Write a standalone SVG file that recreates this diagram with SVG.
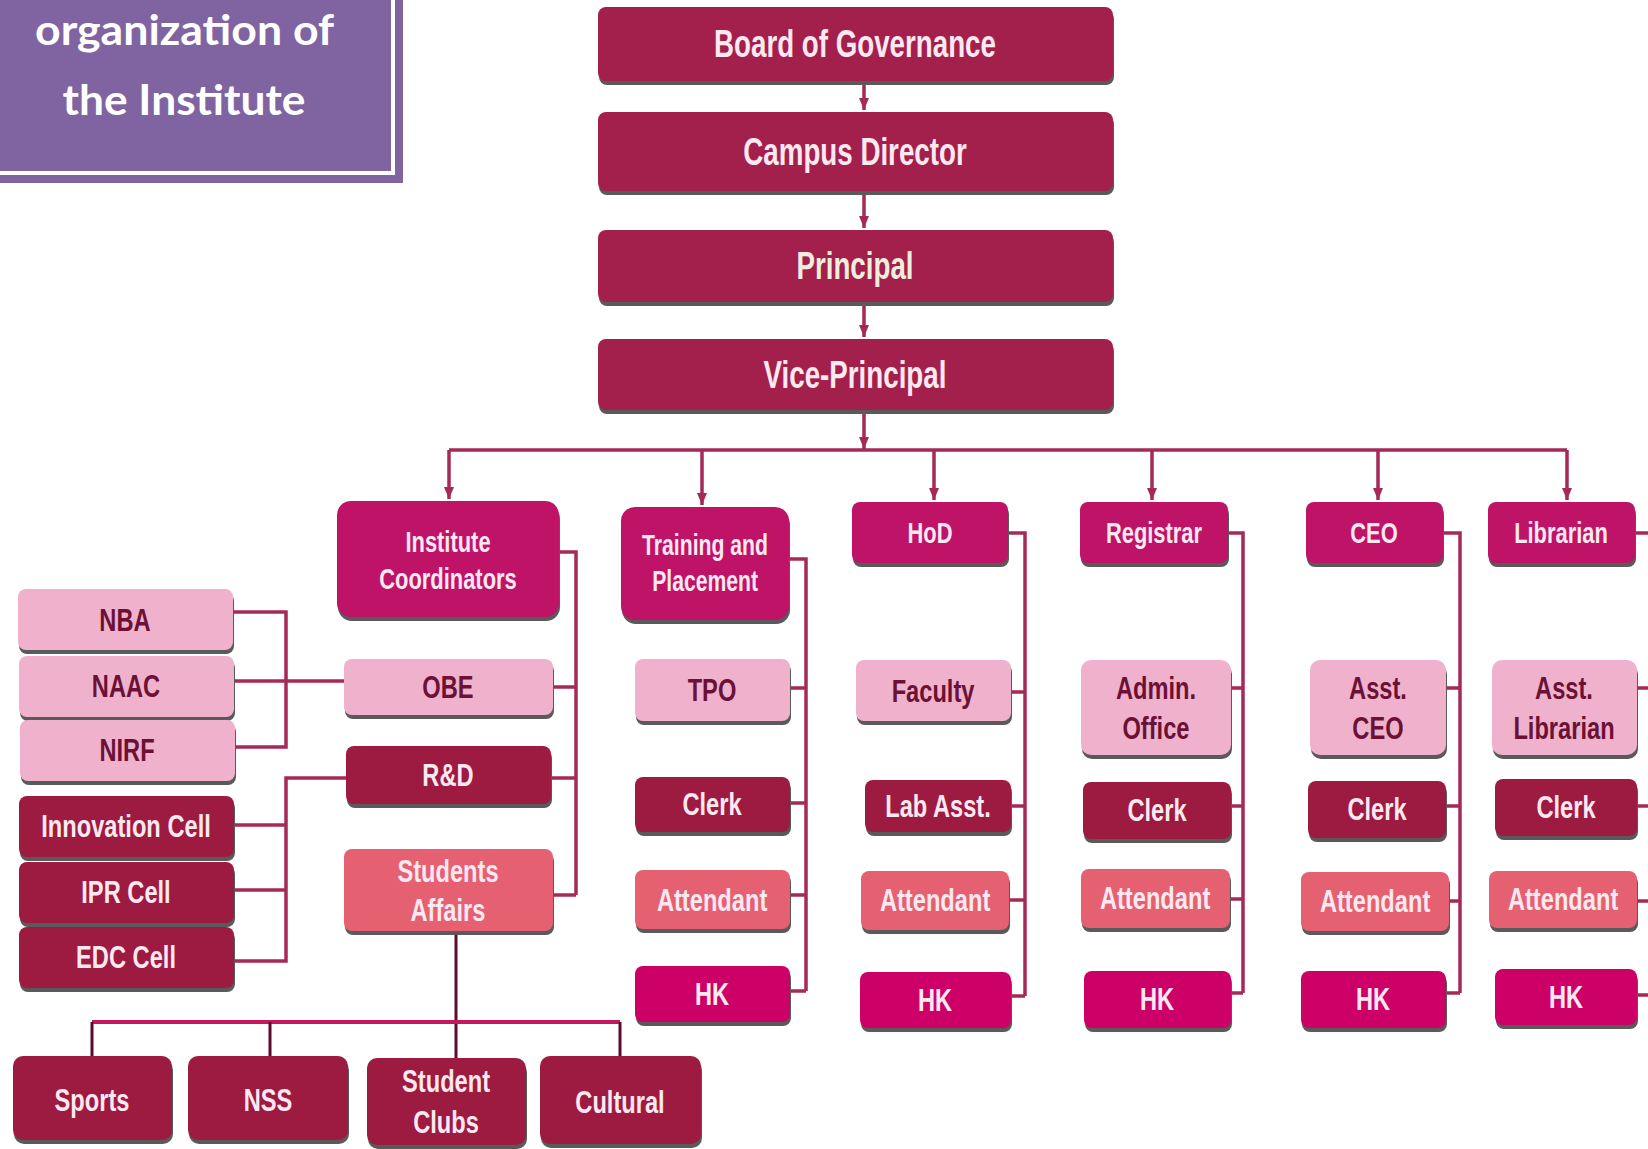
<svg xmlns="http://www.w3.org/2000/svg" width="1648" height="1149" viewBox="0 0 1648 1149">
<style>
text{font-family:"Liberation Sans Narrow","Arial Narrow","Liberation Sans",sans-serif;font-weight:bold;text-anchor:middle;dominant-baseline:central;transform-box:fill-box;transform-origin:center;transform:scaleX(0.74)}
.t{font-size:38px;transform:scaleX(0.73)}
.l2{font-size:30px;transform:scaleX(0.73)}
.c{font-size:32px}
.w{fill:#fbe8f0}
.d{fill:#6b1136}
.top{fill:#a3204c}
.mag{fill:#be1367}
.lt{fill:#f0b1cc}
.dk{fill:#9d1a40}
.sal{fill:#e56171}
.hk{fill:#cc0066}
.sh{fill:#5a5a5a}
.cn{fill:none;stroke:#a52a58;stroke-width:3.5}
.bus2{fill:none;stroke:#c8175f;stroke-width:4}
.dr{fill:none;stroke:#5c0b2c;stroke-width:3}
text.title{font-family:Lato,"Open Sans",sans-serif;font-weight:bold;fill:#ffffff;text-anchor:middle;dominant-baseline:alphabetic;transform:none}
</style>
<defs>
<marker id="ad" viewBox="0 0 12 10" refX="12" refY="5" markerWidth="12" markerHeight="14" markerUnits="userSpaceOnUse" orient="auto">
<path d="M0,0 L12,5 L0,10 Z" fill="#a52a58"/>
</marker>
</defs>
<rect width="1648" height="1149" fill="#ffffff"/>

<g id="title">
<rect x="0" y="0" width="403" height="183" fill="#8064a2"/>
<rect x="-10" y="-10" width="403" height="183" fill="none" stroke="#ffffff" stroke-width="4"/>
<text class="title" x="184.5" y="45" font-size="42" textLength="299" lengthAdjust="spacingAndGlyphs">organization of</text>
<text class="title" x="184" y="115" font-size="42" textLength="243" lengthAdjust="spacingAndGlyphs">the Institute</text>
</g>

<g id="connectors">
<path class="cn" d="M864,81 V110" marker-end="url(#ad)"/>
<path class="cn" d="M864,191 V228" marker-end="url(#ad)"/>
<path class="cn" d="M864,302 V337" marker-end="url(#ad)"/>
<path class="cn" d="M864,410 V449" marker-end="url(#ad)"/>
<path class="cn" d="M449,450 H1567"/>
<path class="cn" d="M449,450 V499" marker-end="url(#ad)"/>
<path class="cn" d="M702,450 V505" marker-end="url(#ad)"/>
<path class="cn" d="M934,450 V500" marker-end="url(#ad)"/>
<path class="cn" d="M1152,450 V500" marker-end="url(#ad)"/>
<path class="cn" d="M1378,450 V500" marker-end="url(#ad)"/>
<path class="cn" d="M1567,450 V500" marker-end="url(#ad)"/>
<path class="cn" d="M559,552 H576 V895"/>
<path class="cn" d="M553,687 H576 M551,778 H576 M553,895 H576"/>
<path class="cn" d="M233,612 H286 V747 H235 M234,681 H344"/>
<path class="cn" d="M346,778 H286 V961 H234 M234,825 H286 M234,890 H286"/>
<path class="dr" d="M456,931 V1058"/>
<path class="bus2" d="M92,1022 H620"/>
<path class="dr" d="M92,1022 V1056 M270,1022 V1056 M620,1022 V1056"/>
<path class="cn" d="M789,559 H806 V991"/>
<path class="cn" d="M790,688 H806 M790,803 H806 M790,895 H806 M790,991 H806"/>
<path class="cn" d="M1008,533 H1025 V996"/>
<path class="cn" d="M1011,692 H1025 M1011,806 H1025 M1009,900 H1025 M1011,996 H1025"/>
<path class="cn" d="M1228,533 H1243 V993"/>
<path class="cn" d="M1231,688 H1243 M1231,806 H1243 M1230,899 H1243 M1231,993 H1243"/>
<path class="cn" d="M1443,533 H1460 V993"/>
<path class="cn" d="M1446,688 H1460 M1446,806 H1460 M1449,901 H1460 M1446,993 H1460"/>
<path class="cn" d="M1635,533 H1648 M1637,688 H1648 M1637,806 H1648 M1637,901 H1648 M1637,995 H1648"/>
</g>

<g id="board"><rect class="sh" x="599" y="11" width="515" height="74" rx="8"/><rect class="top" x="598" y="7" width="515" height="74" rx="8"/><text class="t w" x="855" y="44">Board of Governance</text></g>
<g id="campus-director"><rect class="sh" x="599" y="116" width="515" height="79" rx="8"/><rect class="top" x="598" y="112" width="515" height="79" rx="8"/><text class="t w" x="855" y="152">Campus Director</text></g>
<g id="principal"><rect class="sh" x="599" y="234" width="515" height="72" rx="8"/><rect class="top" x="598" y="230" width="515" height="72" rx="8"/><text class="t w" x="855" y="266" style="fill:#efeede">Principal</text></g>
<g id="vice-principal"><rect class="sh" x="599" y="343" width="515" height="71" rx="8"/><rect class="top" x="598" y="339" width="515" height="71" rx="8"/><text class="t w" x="855" y="375">Vice-Principal</text></g>

<g id="institute-coordinators"><rect class="sh" x="338" y="505" width="222" height="116" rx="14"/><rect class="mag" x="337" y="501" width="222" height="116" rx="14"/><text class="l2 w" x="448" y="542">Institute</text><text class="l2 w" x="448" y="579">Coordinators</text></g>
<g id="training-placement"><rect class="sh" x="622" y="511" width="168" height="113" rx="14"/><rect class="mag" x="621" y="507" width="168" height="113" rx="14"/><text class="l2 w" style="font-size:29px" x="705" y="545">Training and</text><text class="l2 w" style="font-size:29px" x="705" y="581">Placement</text></g>
<g id="hod"><rect class="sh" x="853" y="506" width="156" height="61" rx="8"/><rect class="mag" x="852" y="502" width="156" height="61" rx="8"/><text class="l2 w" x="930" y="533">HoD</text></g>
<g id="registrar"><rect class="sh" x="1081" y="506" width="148" height="61" rx="8"/><rect class="mag" x="1080" y="502" width="148" height="61" rx="8"/><text class="l2 w" x="1154" y="533">Registrar</text></g>
<g id="ceo"><rect class="sh" x="1307" y="506" width="137" height="61" rx="8"/><rect class="mag" x="1306" y="502" width="137" height="61" rx="8"/><text class="l2 w" x="1374" y="533">CEO</text></g>
<g id="librarian"><rect class="sh" x="1489" y="506" width="147" height="61" rx="8"/><rect class="mag" x="1488" y="502" width="147" height="61" rx="8"/><text class="l2 w" x="1561" y="533">Librarian</text></g>

<g id="obe"><rect class="sh" x="345" y="663" width="209" height="56" rx="8"/><rect class="lt" x="344" y="659" width="209" height="56" rx="8"/><text class="c d" x="448" y="687">OBE</text></g>
<g id="rnd"><rect class="sh" x="347" y="750" width="205" height="58" rx="8"/><rect class="dk" x="346" y="746" width="205" height="58" rx="8"/><text class="c w" x="448" y="775">R&amp;D</text></g>
<g id="students-affairs"><rect class="sh" x="345" y="853" width="209" height="82" rx="8"/><rect class="sal" x="344" y="849" width="209" height="82" rx="8"/><text class="c w" x="448" y="871">Students</text><text class="c w" x="448" y="910">Affairs</text></g>

<g id="nba"><rect class="sh" x="19" y="593" width="215" height="61" rx="8"/><rect class="lt" x="18" y="589" width="215" height="61" rx="8"/><text class="c d" x="125" y="620">NBA</text></g>
<g id="naac"><rect class="sh" x="20" y="660" width="215" height="61" rx="8"/><rect class="lt" x="19" y="656" width="215" height="61" rx="8"/><text class="c d" x="126" y="686">NAAC</text></g>
<g id="nirf"><rect class="sh" x="21" y="724" width="215" height="61" rx="8"/><rect class="lt" x="20" y="720" width="215" height="61" rx="8"/><text class="c d" x="127" y="750">NIRF</text></g>
<g id="innovation-cell"><rect class="sh" x="20" y="800" width="215" height="61" rx="8"/><rect class="dk" x="19" y="796" width="215" height="61" rx="8"/><text class="c w" x="126" y="826">Innovation Cell</text></g>
<g id="ipr-cell"><rect class="sh" x="20" y="866" width="215" height="61" rx="8"/><rect class="dk" x="19" y="862" width="215" height="61" rx="8"/><text class="c w" x="126" y="892">IPR Cell</text></g>
<g id="edc-cell"><rect class="sh" x="20" y="931" width="215" height="61" rx="8"/><rect class="dk" x="19" y="927" width="215" height="61" rx="8"/><text class="c w" x="126" y="957">EDC Cell</text></g>

<g id="sports"><rect class="sh" x="14" y="1060" width="159" height="84" rx="10"/><rect class="dk" x="13" y="1056" width="159" height="84" rx="10"/><text class="c w" x="92" y="1100">Sports</text></g>
<g id="nss"><rect class="sh" x="189" y="1060" width="160" height="84" rx="10"/><rect class="dk" x="188" y="1056" width="160" height="84" rx="10"/><text class="c w" x="268" y="1100">NSS</text></g>
<g id="student-clubs"><rect class="sh" x="368" y="1062" width="159" height="87" rx="10"/><rect class="dk" x="367" y="1058" width="159" height="87" rx="10"/><text class="c w" x="446" y="1081">Student</text><text class="c w" x="446" y="1122">Clubs</text></g>
<g id="cultural"><rect class="sh" x="541" y="1060" width="161" height="88" rx="10"/><rect class="dk" x="540" y="1056" width="161" height="88" rx="10"/><text class="c w" x="620" y="1102">Cultural</text></g>

<g id="tpo"><rect class="sh" x="636" y="663" width="155" height="62" rx="8"/><rect class="lt" x="635" y="659" width="155" height="62" rx="8"/><text class="c d" x="712" y="690">TPO</text></g>
<g id="tp-clerk"><rect class="sh" x="636" y="781" width="155" height="55" rx="8"/><rect class="dk" x="635" y="777" width="155" height="55" rx="8"/><text class="c w" x="712" y="804">Clerk</text></g>
<g id="tp-attendant"><rect class="sh" x="636" y="874" width="155" height="59" rx="8"/><rect class="sal" x="635" y="870" width="155" height="59" rx="8"/><text class="c w" x="712" y="900">Attendant</text></g>
<g id="tp-hk"><rect class="sh" x="636" y="970" width="155" height="56" rx="8"/><rect class="hk" x="635" y="966" width="155" height="56" rx="8"/><text class="c w" x="712" y="994">HK</text></g>

<g id="faculty"><rect class="sh" x="857" y="664" width="155" height="61" rx="8"/><rect class="lt" x="856" y="660" width="155" height="61" rx="8"/><text class="c d" x="933" y="691">Faculty</text></g>
<g id="lab-asst"><rect class="sh" x="866" y="784" width="146" height="52" rx="8"/><rect class="dk" x="865" y="780" width="146" height="52" rx="8"/><text class="c w" x="938" y="806">Lab Asst.</text></g>
<g id="hod-attendant"><rect class="sh" x="862" y="875" width="148" height="59" rx="8"/><rect class="sal" x="861" y="871" width="148" height="59" rx="8"/><text class="c w" x="935" y="900">Attendant</text></g>
<g id="hod-hk"><rect class="sh" x="861" y="976" width="151" height="56" rx="8"/><rect class="hk" x="860" y="972" width="151" height="56" rx="8"/><text class="c w" x="935" y="1000">HK</text></g>

<g id="admin-office"><rect class="sh" x="1082" y="664" width="150" height="95" rx="10"/><rect class="lt" x="1081" y="660" width="150" height="95" rx="10"/><text class="c d" x="1156" y="688">Admin.</text><text class="c d" x="1156" y="728">Office</text></g>
<g id="reg-clerk"><rect class="sh" x="1084" y="786" width="148" height="57" rx="8"/><rect class="dk" x="1083" y="782" width="148" height="57" rx="8"/><text class="c w" x="1157" y="810">Clerk</text></g>
<g id="reg-attendant"><rect class="sh" x="1082" y="873" width="149" height="59" rx="8"/><rect class="sal" x="1081" y="869" width="149" height="59" rx="8"/><text class="c w" x="1155" y="898">Attendant</text></g>
<g id="reg-hk"><rect class="sh" x="1085" y="975" width="147" height="57" rx="8"/><rect class="hk" x="1084" y="971" width="147" height="57" rx="8"/><text class="c w" x="1157" y="999">HK</text></g>

<g id="asst-ceo"><rect class="sh" x="1311" y="664" width="136" height="95" rx="10"/><rect class="lt" x="1310" y="660" width="136" height="95" rx="10"/><text class="c d" x="1378" y="688">Asst.</text><text class="c d" x="1378" y="728">CEO</text></g>
<g id="ceo-clerk"><rect class="sh" x="1309" y="785" width="138" height="57" rx="8"/><rect class="dk" x="1308" y="781" width="138" height="57" rx="8"/><text class="c w" x="1377" y="809">Clerk</text></g>
<g id="ceo-attendant"><rect class="sh" x="1302" y="876" width="148" height="59" rx="8"/><rect class="sal" x="1301" y="872" width="148" height="59" rx="8"/><text class="c w" x="1375" y="901">Attendant</text></g>
<g id="ceo-hk"><rect class="sh" x="1302" y="975" width="145" height="57" rx="8"/><rect class="hk" x="1301" y="971" width="145" height="57" rx="8"/><text class="c w" x="1373" y="999">HK</text></g>

<g id="asst-librarian"><rect class="sh" x="1493" y="664" width="145" height="95" rx="10"/><rect class="lt" x="1492" y="660" width="145" height="95" rx="10"/><text class="c d" x="1564" y="688">Asst.</text><text class="c d" x="1564" y="728">Librarian</text></g>
<g id="lib-clerk"><rect class="sh" x="1496" y="783" width="142" height="57" rx="8"/><rect class="dk" x="1495" y="779" width="142" height="57" rx="8"/><text class="c w" x="1566" y="807">Clerk</text></g>
<g id="lib-attendant"><rect class="sh" x="1490" y="875" width="148" height="57" rx="8"/><rect class="sal" x="1489" y="871" width="148" height="57" rx="8"/><text class="c w" x="1563" y="899">Attendant</text></g>
<g id="lib-hk"><rect class="sh" x="1496" y="973" width="142" height="56" rx="8"/><rect class="hk" x="1495" y="969" width="142" height="56" rx="8"/><text class="c w" x="1566" y="997">HK</text></g>
</svg>
